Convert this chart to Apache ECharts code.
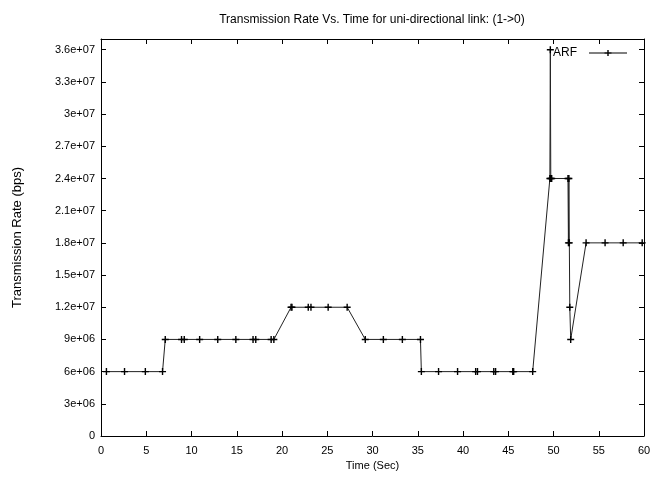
<!DOCTYPE html>
<html>
<head>
<meta charset="utf-8">
<script src="https://cdn.jsdelivr.net/npm/echarts@6/dist/echarts.min.js"></script>
<style>
html,body{margin:0;padding:0;background:#fff;}
#chart{width:654px;height:479px;}
</style>
</head>
<body>
<div id="chart"></div>
<script>
// Data
const seriesName = 'ARF';
const timeSec = [0.6, 2.6, 4.9, 6.8, 7.1, 8.9, 9.2, 10.9, 12.9, 14.9, 16.8, 17.1, 18.8, 19.1,
  21.0, 21.1, 22.9, 23.2, 25.1, 27.2, 29.2, 31.2, 33.3, 35.3, 35.4, 37.3, 39.4, 41.4, 41.6,
  43.4, 43.6, 45.5, 45.6, 47.7, 49.6, 49.65, 49.7, 49.8, 51.6, 51.65, 51.7, 51.75, 51.8, 51.9,
  53.6, 55.7, 57.7, 59.8];
const rateBps = [6e6, 6e6, 6e6, 6e6, 9e6, 9e6, 9e6, 9e6, 9e6, 9e6, 9e6, 9e6, 9e6, 9e6,
  1.2e7, 1.2e7, 1.2e7, 1.2e7, 1.2e7, 1.2e7, 9e6, 9e6, 9e6, 9e6, 6e6, 6e6, 6e6, 6e6, 6e6,
  6e6, 6e6, 6e6, 6e6, 6e6, 2.4e7, 3.6e7, 2.4e7, 2.4e7, 2.4e7, 1.8e7, 2.4e7, 1.8e7, 1.2e7, 9e6,
  1.8e7, 1.8e7, 1.8e7, 1.8e7];
const xTicks = [0, 5, 10, 15, 20, 25, 30, 35, 40, 45, 50, 55, 60];
const yTickStep = 3e6;

const points = timeSec.map((t, i) => [t, rateBps[i]]);
const FONT = 'Liberation Sans';
const plus = 'path://M4,0H6V10H4ZM0,4H10V6H0Z';
const legendIcon = 'path://M0,3.5H38V4.5H0ZM18.3,1H19.7V7H18.3ZM15.5,3.3H22.5V4.7H15.5Z';

function gfmt(v) {
  if (v === 0) return '0';
  if (Math.abs(v - Math.round(v / yTickStep) * yTickStep) > 1) return '';
  const e = Math.floor(Math.log10(v) + 1e-9);
  let m = v / Math.pow(10, e);
  m = Math.round(m * 1000) / 1000;
  return m + 'e+' + (e < 10 ? '0' + e : e);
}

const chart = echarts.init(document.getElementById('chart'), null, {renderer: 'canvas'});
const axisCommon = {
  axisLine: {show: true, onZero: false, lineStyle: {color: '#000', width: 1}},
  axisTick: {show: true, inside: true, length: 5, lineStyle: {color: '#000'}},
  splitLine: {show: false}
};
chart.setOption({
  backgroundColor: '#fff',
  animation: false,
  title: {
    text: 'Transmission Rate Vs. Time for uni-directional link: (1->0)',
    left: 367, top: 9, textAlign: 'center',
    textStyle: {fontFamily: FONT, fontSize: 12, fontWeight: 'normal', color: '#000'}
  },
  grid: {left: 101, right: 10, top: 39, bottom: 43, show: false},
  legend: {
    right: 27, top: 47, align: 'right', padding: 0,
    itemWidth: 38, itemHeight: 8,
    icon: legendIcon,
    textStyle: {fontFamily: FONT, fontSize: 12, color: '#000', padding: [0, 7, 0, 0]},
    data: [{name: seriesName, icon: legendIcon, itemStyle: {color: '#000'}}]
  },
  xAxis: [
    Object.assign({
      type: 'value', min: 0, max: 60, interval: 5, position: 'bottom',
      name: 'Time (Sec)', nameLocation: 'middle', nameGap: 23,
      nameTextStyle: {fontFamily: FONT, fontSize: 11, color: '#000'},
      axisLabel: {fontFamily: FONT, fontSize: 11, color: '#000', margin: 9,
        formatter: v => (xTicks.indexOf(v) >= 0 ? String(v) : '')}
    }, axisCommon),
    Object.assign({
      type: 'value', min: 0, max: 60, interval: 5, position: 'top',
      axisLabel: {show: false}
    }, axisCommon)
  ],
  yAxis: [
    Object.assign({
      type: 'value', min: 0, max: 3.7e7, interval: yTickStep, position: 'left',
      name: 'Transmission Rate (bps)', nameLocation: 'middle', nameGap: 77, nameRotate: 90,
      nameTextStyle: {fontFamily: FONT, fontSize: 13, color: '#000'},
      axisLabel: {fontFamily: FONT, fontSize: 11, color: '#000', margin: 6, formatter: gfmt,
        showMaxLabel: false}
    }, axisCommon),
    Object.assign({
      type: 'value', min: 0, max: 3.7e7, interval: yTickStep, position: 'right',
      axisLabel: {show: false}
    }, axisCommon)
  ],
  series: [{
    name: seriesName,
    type: 'line',
    xAxisIndex: 0, yAxisIndex: 0,
    data: points,
    showAllSymbol: true,
    symbol: plus,
    symbolSize: 7,
    lineStyle: {color: '#222', width: 1},
    itemStyle: {color: '#000'},
    emphasis: {disabled: true}
  }]
});
</script>
</body>
</html>
